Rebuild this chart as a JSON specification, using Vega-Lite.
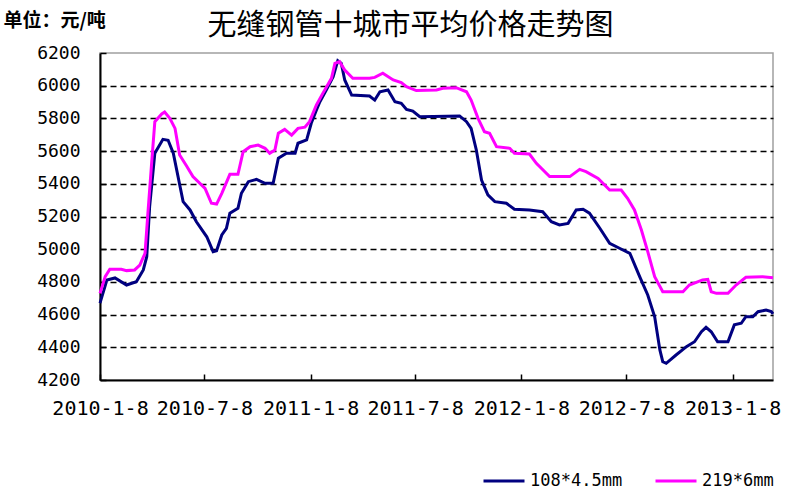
{
  "$schema": "https://vega.github.io/schema/vega-lite/v6.json",
  "width": 673,
  "height": 327,
  "autosize": {"type": "none"},
  "padding": {"left": 100, "top": 53, "right": 27, "bottom": 120},
  "background": "white",
  "title": {
    "text": "无缝钢管十城市平均价格走势图",
    "font": "Noto Sans CJK SC",
    "fontSize": 29,
    "fontWeight": "normal",
    "color": "black",
    "anchor": "middle",
    "dx": -26,
    "offset": -30
  },
  "config": {
    "view": {"stroke": "#a0a0a0", "strokeWidth": 1.5},
    "axis": {"labelColor": "black", "domainColor": "black", "tickColor": "black", "domainWidth": 2}
  },
  "data": {
    "values": [
      {"date": "2010-01-08", "series": "108*4.5mm", "price": 4670},
      {"date": "2010-01-20", "series": "108*4.5mm", "price": 4812},
      {"date": "2010-02-03", "series": "108*4.5mm", "price": 4824},
      {"date": "2010-02-23", "series": "108*4.5mm", "price": 4781},
      {"date": "2010-03-12", "series": "108*4.5mm", "price": 4801},
      {"date": "2010-03-24", "series": "108*4.5mm", "price": 4873},
      {"date": "2010-03-30", "series": "108*4.5mm", "price": 4954},
      {"date": "2010-04-04", "series": "108*4.5mm", "price": 5260},
      {"date": "2010-04-13", "series": "108*4.5mm", "price": 5587},
      {"date": "2010-04-27", "series": "108*4.5mm", "price": 5672},
      {"date": "2010-05-06", "series": "108*4.5mm", "price": 5666},
      {"date": "2010-05-15", "series": "108*4.5mm", "price": 5587},
      {"date": "2010-06-01", "series": "108*4.5mm", "price": 5291},
      {"date": "2010-06-13", "series": "108*4.5mm", "price": 5240},
      {"date": "2010-06-24", "series": "108*4.5mm", "price": 5168},
      {"date": "2010-07-12", "series": "108*4.5mm", "price": 5076},
      {"date": "2010-07-23", "series": "108*4.5mm", "price": 4985},
      {"date": "2010-07-29", "series": "108*4.5mm", "price": 4990},
      {"date": "2010-08-07", "series": "108*4.5mm", "price": 5087},
      {"date": "2010-08-15", "series": "108*4.5mm", "price": 5128},
      {"date": "2010-08-21", "series": "108*4.5mm", "price": 5220},
      {"date": "2010-09-04", "series": "108*4.5mm", "price": 5250},
      {"date": "2010-09-10", "series": "108*4.5mm", "price": 5342},
      {"date": "2010-09-22", "series": "108*4.5mm", "price": 5413},
      {"date": "2010-10-06", "series": "108*4.5mm", "price": 5427},
      {"date": "2010-10-21", "series": "108*4.5mm", "price": 5403},
      {"date": "2010-11-04", "series": "108*4.5mm", "price": 5403},
      {"date": "2010-11-13", "series": "108*4.5mm", "price": 5556},
      {"date": "2010-11-27", "series": "108*4.5mm", "price": 5587},
      {"date": "2010-12-12", "series": "108*4.5mm", "price": 5587},
      {"date": "2010-12-17", "series": "108*4.5mm", "price": 5648},
      {"date": "2011-01-01", "series": "108*4.5mm", "price": 5668},
      {"date": "2011-01-09", "series": "108*4.5mm", "price": 5770},
      {"date": "2011-01-18", "series": "108*4.5mm", "price": 5851},
      {"date": "2011-01-24", "series": "108*4.5mm", "price": 5902},
      {"date": "2011-02-04", "series": "108*4.5mm", "price": 5974},
      {"date": "2011-02-16", "series": "108*4.5mm", "price": 6055},
      {"date": "2011-02-24", "series": "108*4.5mm", "price": 6153},
      {"date": "2011-03-02", "series": "108*4.5mm", "price": 6137},
      {"date": "2011-03-08", "series": "108*4.5mm", "price": 6035},
      {"date": "2011-03-20", "series": "108*4.5mm", "price": 5943},
      {"date": "2011-04-20", "series": "108*4.5mm", "price": 5937},
      {"date": "2011-04-29", "series": "108*4.5mm", "price": 5912},
      {"date": "2011-05-08", "series": "108*4.5mm", "price": 5963},
      {"date": "2011-05-22", "series": "108*4.5mm", "price": 5974},
      {"date": "2011-06-03", "series": "108*4.5mm", "price": 5902},
      {"date": "2011-06-14", "series": "108*4.5mm", "price": 5892},
      {"date": "2011-06-23", "series": "108*4.5mm", "price": 5855},
      {"date": "2011-07-04", "series": "108*4.5mm", "price": 5845},
      {"date": "2011-07-16", "series": "108*4.5mm", "price": 5810},
      {"date": "2011-09-23", "series": "108*4.5mm", "price": 5815},
      {"date": "2011-10-05", "series": "108*4.5mm", "price": 5780},
      {"date": "2011-10-13", "series": "108*4.5mm", "price": 5739},
      {"date": "2011-10-22", "series": "108*4.5mm", "price": 5607},
      {"date": "2011-10-31", "series": "108*4.5mm", "price": 5423},
      {"date": "2011-11-11", "series": "108*4.5mm", "price": 5332},
      {"date": "2011-11-23", "series": "108*4.5mm", "price": 5291},
      {"date": "2011-12-13", "series": "108*4.5mm", "price": 5281},
      {"date": "2011-12-27", "series": "108*4.5mm", "price": 5244},
      {"date": "2012-01-22", "series": "108*4.5mm", "price": 5240},
      {"date": "2012-02-14", "series": "108*4.5mm", "price": 5229},
      {"date": "2012-02-29", "series": "108*4.5mm", "price": 5168},
      {"date": "2012-03-14", "series": "108*4.5mm", "price": 5148},
      {"date": "2012-03-29", "series": "108*4.5mm", "price": 5158},
      {"date": "2012-04-12", "series": "108*4.5mm", "price": 5240},
      {"date": "2012-04-24", "series": "108*4.5mm", "price": 5244},
      {"date": "2012-05-05", "series": "108*4.5mm", "price": 5220},
      {"date": "2012-05-23", "series": "108*4.5mm", "price": 5128},
      {"date": "2012-06-09", "series": "108*4.5mm", "price": 5036},
      {"date": "2012-06-26", "series": "108*4.5mm", "price": 5006},
      {"date": "2012-07-14", "series": "108*4.5mm", "price": 4975},
      {"date": "2012-07-31", "series": "108*4.5mm", "price": 4832},
      {"date": "2012-08-14", "series": "108*4.5mm", "price": 4720},
      {"date": "2012-08-26", "series": "108*4.5mm", "price": 4587},
      {"date": "2012-09-04", "series": "108*4.5mm", "price": 4384},
      {"date": "2012-09-09", "series": "108*4.5mm", "price": 4312},
      {"date": "2012-09-15", "series": "108*4.5mm", "price": 4302},
      {"date": "2012-10-02", "series": "108*4.5mm", "price": 4353},
      {"date": "2012-10-20", "series": "108*4.5mm", "price": 4404},
      {"date": "2012-11-03", "series": "108*4.5mm", "price": 4434},
      {"date": "2012-11-15", "series": "108*4.5mm", "price": 4495},
      {"date": "2012-11-23", "series": "108*4.5mm", "price": 4522},
      {"date": "2012-12-02", "series": "108*4.5mm", "price": 4495},
      {"date": "2012-12-13", "series": "108*4.5mm", "price": 4434},
      {"date": "2012-12-31", "series": "108*4.5mm", "price": 4434},
      {"date": "2013-01-11", "series": "108*4.5mm", "price": 4537},
      {"date": "2013-01-23", "series": "108*4.5mm", "price": 4547},
      {"date": "2013-01-31", "series": "108*4.5mm", "price": 4587},
      {"date": "2013-02-12", "series": "108*4.5mm", "price": 4587},
      {"date": "2013-02-21", "series": "108*4.5mm", "price": 4618},
      {"date": "2013-03-07", "series": "108*4.5mm", "price": 4628},
      {"date": "2013-03-16", "series": "108*4.5mm", "price": 4618},
      {"date": "2013-03-19", "series": "108*4.5mm", "price": 4604},
      {"date": "2010-01-08", "series": "219*6mm", "price": 4730},
      {"date": "2010-01-17", "series": "219*6mm", "price": 4832},
      {"date": "2010-01-25", "series": "219*6mm", "price": 4877},
      {"date": "2010-02-14", "series": "219*6mm", "price": 4877},
      {"date": "2010-02-23", "series": "219*6mm", "price": 4869},
      {"date": "2010-03-09", "series": "219*6mm", "price": 4873},
      {"date": "2010-03-18", "series": "219*6mm", "price": 4903},
      {"date": "2010-03-27", "series": "219*6mm", "price": 4975},
      {"date": "2010-04-01", "series": "219*6mm", "price": 5220},
      {"date": "2010-04-07", "series": "219*6mm", "price": 5505},
      {"date": "2010-04-13", "series": "219*6mm", "price": 5780},
      {"date": "2010-04-25", "series": "219*6mm", "price": 5827},
      {"date": "2010-04-30", "series": "219*6mm", "price": 5839},
      {"date": "2010-05-09", "series": "219*6mm", "price": 5800},
      {"date": "2010-05-18", "series": "219*6mm", "price": 5739},
      {"date": "2010-05-26", "series": "219*6mm", "price": 5576},
      {"date": "2010-06-07", "series": "219*6mm", "price": 5509},
      {"date": "2010-06-18", "series": "219*6mm", "price": 5444},
      {"date": "2010-07-09", "series": "219*6mm", "price": 5372},
      {"date": "2010-07-20", "series": "219*6mm", "price": 5281},
      {"date": "2010-07-29", "series": "219*6mm", "price": 5276},
      {"date": "2010-08-07", "series": "219*6mm", "price": 5342},
      {"date": "2010-08-21", "series": "219*6mm", "price": 5458},
      {"date": "2010-09-04", "series": "219*6mm", "price": 5458},
      {"date": "2010-09-13", "series": "219*6mm", "price": 5596},
      {"date": "2010-09-25", "series": "219*6mm", "price": 5627},
      {"date": "2010-10-09", "series": "219*6mm", "price": 5637},
      {"date": "2010-10-21", "series": "219*6mm", "price": 5617},
      {"date": "2010-10-29", "series": "219*6mm", "price": 5587},
      {"date": "2010-11-07", "series": "219*6mm", "price": 5607},
      {"date": "2010-11-13", "series": "219*6mm", "price": 5709},
      {"date": "2010-11-24", "series": "219*6mm", "price": 5733},
      {"date": "2010-12-06", "series": "219*6mm", "price": 5698},
      {"date": "2010-12-17", "series": "219*6mm", "price": 5739},
      {"date": "2010-12-29", "series": "219*6mm", "price": 5746},
      {"date": "2011-01-06", "series": "219*6mm", "price": 5780},
      {"date": "2011-01-18", "series": "219*6mm", "price": 5882},
      {"date": "2011-01-29", "series": "219*6mm", "price": 5953},
      {"date": "2011-02-13", "series": "219*6mm", "price": 6045},
      {"date": "2011-02-19", "series": "219*6mm", "price": 6137},
      {"date": "2011-02-27", "series": "219*6mm", "price": 6147},
      {"date": "2011-03-08", "series": "219*6mm", "price": 6096},
      {"date": "2011-03-22", "series": "219*6mm", "price": 6045},
      {"date": "2011-04-20", "series": "219*6mm", "price": 6045},
      {"date": "2011-04-29", "series": "219*6mm", "price": 6051},
      {"date": "2011-05-13", "series": "219*6mm", "price": 6076},
      {"date": "2011-05-31", "series": "219*6mm", "price": 6035},
      {"date": "2011-06-14", "series": "219*6mm", "price": 6019},
      {"date": "2011-06-23", "series": "219*6mm", "price": 5994},
      {"date": "2011-07-10", "series": "219*6mm", "price": 5970},
      {"date": "2011-08-14", "series": "219*6mm", "price": 5974},
      {"date": "2011-08-25", "series": "219*6mm", "price": 5984},
      {"date": "2011-09-17", "series": "219*6mm", "price": 5988},
      {"date": "2011-10-05", "series": "219*6mm", "price": 5963},
      {"date": "2011-10-13", "series": "219*6mm", "price": 5912},
      {"date": "2011-10-25", "series": "219*6mm", "price": 5800},
      {"date": "2011-11-05", "series": "219*6mm", "price": 5719},
      {"date": "2011-11-14", "series": "219*6mm", "price": 5709},
      {"date": "2011-11-26", "series": "219*6mm", "price": 5627},
      {"date": "2011-12-19", "series": "219*6mm", "price": 5617},
      {"date": "2011-12-27", "series": "219*6mm", "price": 5587},
      {"date": "2012-01-22", "series": "219*6mm", "price": 5582},
      {"date": "2012-02-03", "series": "219*6mm", "price": 5525},
      {"date": "2012-02-26", "series": "219*6mm", "price": 5444},
      {"date": "2012-04-01", "series": "219*6mm", "price": 5444},
      {"date": "2012-04-18", "series": "219*6mm", "price": 5488},
      {"date": "2012-04-29", "series": "219*6mm", "price": 5474},
      {"date": "2012-05-20", "series": "219*6mm", "price": 5433},
      {"date": "2012-06-09", "series": "219*6mm", "price": 5362},
      {"date": "2012-06-29", "series": "219*6mm", "price": 5362},
      {"date": "2012-07-10", "series": "219*6mm", "price": 5311},
      {"date": "2012-07-22", "series": "219*6mm", "price": 5240},
      {"date": "2012-08-03", "series": "219*6mm", "price": 5117},
      {"date": "2012-08-14", "series": "219*6mm", "price": 4985},
      {"date": "2012-08-26", "series": "219*6mm", "price": 4832},
      {"date": "2012-09-09", "series": "219*6mm", "price": 4740},
      {"date": "2012-10-14", "series": "219*6mm", "price": 4740},
      {"date": "2012-10-25", "series": "219*6mm", "price": 4781},
      {"date": "2012-11-17", "series": "219*6mm", "price": 4812},
      {"date": "2012-11-26", "series": "219*6mm", "price": 4816},
      {"date": "2012-12-02", "series": "219*6mm", "price": 4740},
      {"date": "2012-12-11", "series": "219*6mm", "price": 4730},
      {"date": "2012-12-31", "series": "219*6mm", "price": 4730},
      {"date": "2013-01-14", "series": "219*6mm", "price": 4781},
      {"date": "2013-01-31", "series": "219*6mm", "price": 4828},
      {"date": "2013-03-01", "series": "219*6mm", "price": 4832},
      {"date": "2013-03-19", "series": "219*6mm", "price": 4826}
    ]
  },
  "mark": {"type": "line", "strokeWidth": 3, "interpolate": "linear"},
  "encoding": {
    "x": {
      "field": "date",
      "type": "temporal",
      "scale": {
        "type": "utc",
        "nice": false,
        "domain": [
          {"year": 2010, "month": 1, "date": 8, "utc": true},
          {"year": 2013, "month": 3, "date": 19, "utc": true}
        ]
      },
      "axis": {
        "title": null,
        "values": [
          {"year": 2010, "month": 1, "date": 8, "utc": true},
          {"year": 2010, "month": 7, "date": 8, "utc": true},
          {"year": 2011, "month": 1, "date": 8, "utc": true},
          {"year": 2011, "month": 7, "date": 8, "utc": true},
          {"year": 2012, "month": 1, "date": 8, "utc": true},
          {"year": 2012, "month": 7, "date": 8, "utc": true},
          {"year": 2013, "month": 1, "date": 8, "utc": true}
        ],
        "format": "%Y-%-m-%-d",
        "labelFont": "DejaVu Sans Mono",
        "labelFontSize": 20,
        "labelFlush": false,
        "labelOverlap": false,
        "tickSize": -6,
        "tickWidth": 1.5,
        "labelPadding": 24,
        "grid": false
      }
    },
    "y": {
      "field": "price",
      "type": "quantitative",
      "scale": {"domain": [4200, 6200], "nice": false, "zero": false},
      "axis": {
        "title": "单位：元/吨",
        "titleAngle": 0,
        "titleAlign": "left",
        "titleBaseline": "middle",
        "titleX": -97,
        "titleY": -33,
        "titleFont": "Noto Sans CJK SC",
        "titleFontSize": 19,
        "titleFontWeight": "bold",
        "titleColor": "black",
        "values": [4200, 4400, 4600, 4800, 5000, 5200, 5400, 5600, 5800, 6000, 6200],
        "format": "d",
        "labelFont": "DejaVu Sans Mono",
        "labelFontSize": 18,
        "labelFlush": false,
        "labelOverlap": false,
        "tickSize": -6,
        "tickWidth": 1.5,
        "labelPadding": 26,
        "grid": true,
        "gridColor": "black",
        "gridWidth": 1.5,
        "gridDash": [6, 4],
        "gridOpacity": {"condition": {"test": "datum.value == 4200 || datum.value == 6200", "value": 0}, "value": 1}
      }
    },
    "color": {
      "field": "series",
      "type": "nominal",
      "scale": {"domain": ["108*4.5mm", "219*6mm"], "range": ["#000080", "#ff00ff"]},
      "legend": {
        "title": null,
        "orient": "none",
        "direction": "horizontal",
        "legendX": 382,
        "legendY": 406,
        "symbolType": "stroke",
        "symbolSize": 1681,
        "symbolStrokeWidth": 3,
        "labelFont": "DejaVu Sans Mono",
        "labelFontSize": 17,
        "labelColor": "black",
        "labelOffset": 4,
        "columnPadding": 26
      }
    }
  }
}
